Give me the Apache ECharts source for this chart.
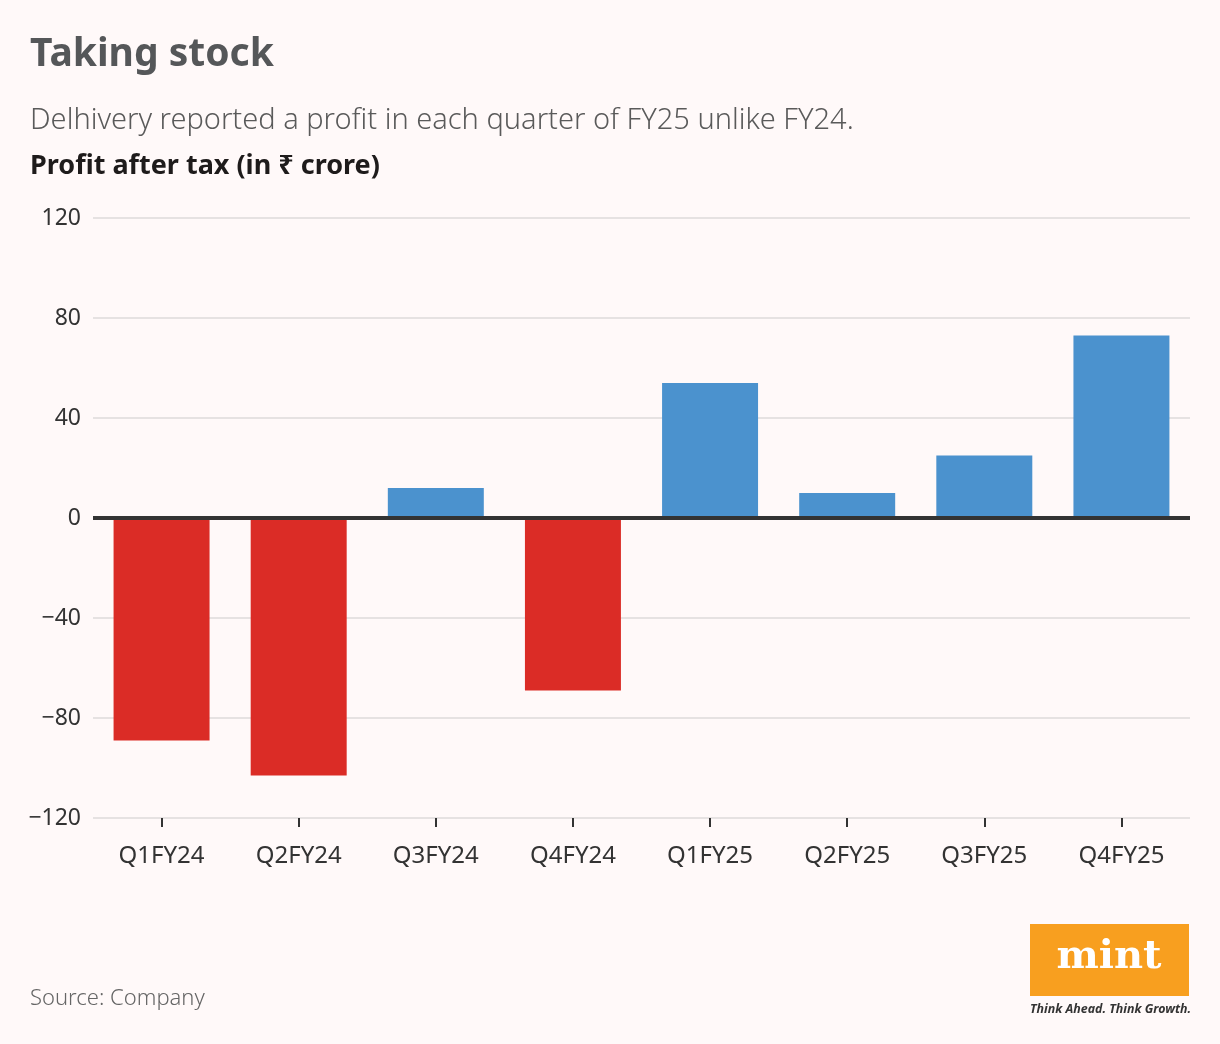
<!DOCTYPE html>
<html>
<head>
<meta charset="utf-8">
<script src="https://cdn.jsdelivr.net/npm/echarts@6/dist/echarts.min.js"></script>
<style>
html,body{margin:0;padding:0;background:#fff9f9;}
#c{width:1220px;height:1044px;}
</style>
</head>
<body>
<div id="c"></div>
<script>
const categories = ['Q1FY24','Q2FY24','Q3FY24','Q4FY24','Q1FY25','Q2FY25','Q3FY25','Q4FY25'];
const profitValues = [-89, -103, 12, -69, 54, 10, 25, 73];
const yTicks = [-120, -80, -40, 0, 40, 80, 120];

const FONT = '"Noto Sans", "Open Sans", sans-serif';
const chart = echarts.init(document.getElementById('c'));
chart.setOption({
  backgroundColor: '#fff9f9',
  animation: false,
  grid: { left: 93, right: 30, top: 218, bottom: 226, containLabel: false },
  title: [
    { text: 'Taking stock', left: 30, top: 35, padding: 0, textStyle: { fontFamily: FONT, fontSize: 39, fontWeight: 'bold', color: '#555759' } },
    { text: 'Delhivery reported a profit in each quarter of FY25 unlike FY24.', left: 30, top: 106, padding: 0, textStyle: { fontFamily: FONT, fontSize: 29, fontWeight: 300, color: '#5a5a5a' } },
    { text: 'Profit after tax (in \u20b9 crore)', left: 30, top: 153, padding: 0, textStyle: { fontFamily: FONT, fontSize: 27, fontWeight: 'bold', color: '#1e1b1b' } },
    { text: 'Source: Company', left: 30, top: 988, padding: 0, textStyle: { fontFamily: FONT, fontSize: 22, fontWeight: 300, color: '#666' } }
  ],
  xAxis: {
    type: 'category',
    data: categories,
    axisLine: { show: false, onZero: false },
    axisTick: { show: true, alignWithLabel: true, length: 9, lineStyle: { color: '#333', width: 2 } },
    axisLabel: { fontFamily: FONT, fontSize: 24, color: '#333', margin: 26 }
  },
  yAxis: {
    type: 'value',
    min: -120, max: 120, interval: 40,
    axisLine: { show: false },
    axisTick: { show: false },
    splitLine: { lineStyle: { color: '#e6e2e2', width: 2 } },
    axisLabel: {
      fontFamily: FONT, fontSize: 23, color: '#333', margin: 12,
      formatter: v => yTicks.includes(v) ? (v < 0 ? '\u2212' + Math.abs(v) : String(v)) : ''
    }
  },
  series: [{
    type: 'bar',
    data: profitValues.map(v => ({ value: v, itemStyle: { color: v < 0 ? '#db2c26' : '#4b92ce' } })),
    barCategoryGap: '30%',
    markLine: {
      silent: true, symbol: 'none',
      label: { show: false },
      lineStyle: { color: '#333', width: 4, type: 'solid' },
      data: [{ yAxis: 0 }]
    }
  }],
  graphic: [
    { type: 'rect', left: 1030, top: 924, shape: { width: 159, height: 72 }, style: { fill: '#f89f1f' } },
    { type: 'text', x: 1109, y: 958, style: { text: 'mint', fontFamily: '"DejaVu Serif", serif', fontSize: 40, fontWeight: 'bold', fill: '#fff', align: 'center', verticalAlign: 'middle' } },
    { type: 'text', left: 1030, top: 1003, style: { text: 'Think Ahead. Think Growth.', fontFamily: FONT, fontSize: 12.4, fontStyle: 'italic', fontWeight: 'bold', fill: '#333' } }
  ]
});
</script>
</body>
</html>
